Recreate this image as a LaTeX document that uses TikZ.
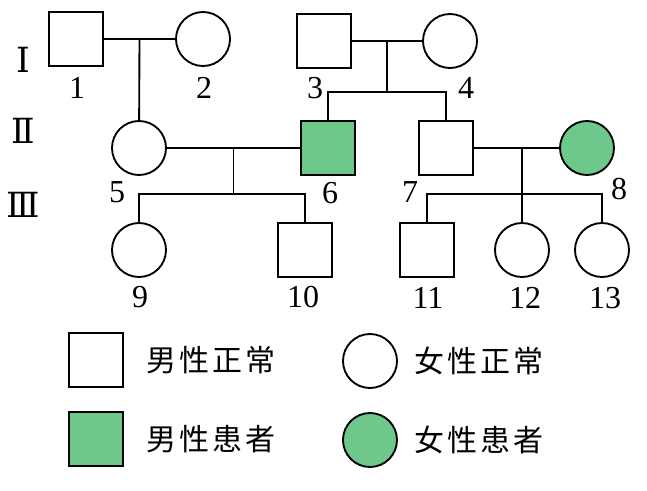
\documentclass[tikz,border=0pt]{standalone}
\usepackage{fontspec}
\setmainfont{Liberation Serif}
\newfontfamily\cjk[LetterSpace=10]{Noto Sans CJK SC}
\newfontfamily\romfont{DejaVu Serif}
\usetikzlibrary{positioning}

\begin{document}
\begin{tikzpicture}[
  x=0.75pt,y=-0.75pt,
  line width=1.4pt,
  male/.style={draw,rectangle,fill=white,minimum size=40.5pt,inner sep=0},
  female/.style={draw,circle,fill=white,minimum size=40.5pt,inner sep=0},
  ill/.style={fill=ill green},
  num/.style={font=\fontsize{24}{24}\selectfont,inner sep=0},
  gen/.style={font=\romfont\fontsize{26}{26}\selectfont,inner sep=0},
  legend text/.style={font=\cjk\fontsize{22.5}{22.5}\selectfont,inner sep=0},
]
  \definecolor{ill green}{RGB}{110,200,140}
  \useasboundingbox (0,0) rectangle (647,490);

  \node[gen] (g1) at (23,60) {Ⅰ};
  \node[gen] (g2) at (23,131) {Ⅱ};
  \node[gen] (g3) at (23,205) {Ⅲ};

  \node[male]     (p1)  at (76,39)   {};
  \node[female]   (p2)  at (203,39)  {};
  \node[male]     (p3)  at (324,41)  {};
  \node[female]   (p4)  at (450,41)  {};
  \node[female]   (p5)  at (139,148) {};
  \node[male,ill] (p6)  at (328,148) {};
  \node[male]     (p7)  at (446,148) {};
  \node[female,ill] (p8) at (587,148) {};
  \node[female]   (p9)  at (139,250) {};
  \node[male]     (p10) at (305,250) {};
  \node[male]     (p11) at (427,250) {};
  \node[female]   (p12) at (522,250) {};
  \node[female]   (p13) at (602,250) {};

  \node[num] (n1)  at (77,88)   {1};
  \node[num] (n2)  at (204,88)  {2};
  \node[num] (n3)  at (315,88)  {3};
  \node[num] (n4)  at (466,88)  {4};
  \node[num] (n5)  at (117,192) {5};
  \node[num] (n6)  at (330,193) {6};
  \node[num] (n7)  at (410,192) {7};
  \node[num] (n8)  at (619,189) {8};
  \node[num] (n9)  at (140,297) {9};
  \node[num] (n10) at (303,297) {10};
  \node[num] (n11) at (428,298) {11};
  \node[num] (n12) at (525,298) {12};
  \node[num] (n13) at (605,298) {13};

  % marriages and offspring
  \draw (p1) -- coordinate (m12) (p2);
  \draw (m12) -- (p5);
  \draw (p3) -- coordinate (m34) (p4);
  \draw (m34) -- ++(0,51) coordinate (b34);
  \draw (b34) -| (p6);
  \draw (b34) -| (p7);
  \draw (p5) -- coordinate (m56) (p6);
  \draw (m56) -- ++(0,46) coordinate (b56);
  \draw (b56) -| (p9);
  \draw (b56) -| (p10);
  \draw (p7) -- coordinate[pos=0.56] (m78) (p8);
  \draw (m78) -- ++(0,46) coordinate (b78);
  \draw (b78) -| (p11);
  \draw (b78) -| (p12);
  \draw (b78) -| (p13);

  % legend
  \node[male]       (lm)  at (96,360)  {};
  \node[male,ill]   (lma) at (96,439)  {};
  \node[female]     (lf)  at (370,361) {};
  \node[female,ill] (lfa) at (370,440) {};
  \node[legend text,right=16pt of lm]  (tm)  {男性正常};
  \node[legend text,right=16pt of lma] (tma) {男性患者};
  \node[legend text,right=12pt of lf]  (tf)  {女性正常};
  \node[legend text,right=12pt of lfa] (tfa) {女性患者};
\end{tikzpicture}
\end{document}
